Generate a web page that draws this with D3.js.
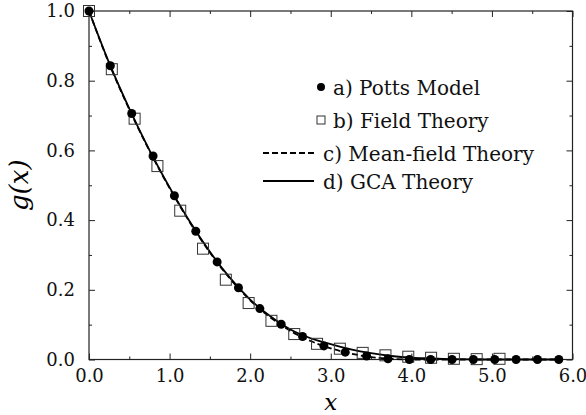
<!DOCTYPE html>
<html><head><meta charset="utf-8">
<script src="https://cdn.jsdelivr.net/npm/d3@7/dist/d3.min.js"></script>
<style>
body{margin:0;background:#fff}svg{display:block}
</style>
</head><body>
<svg id="c" width="586" height="415"></svg>
<script>
// ---- data ----
const pottsX = [0, 0.265, 0.53, 0.795, 1.06, 1.325, 1.59, 1.855, 2.12, 2.385, 2.65, 2.915, 3.18, 3.445, 3.71, 3.975, 4.24, 4.505, 4.77, 5.035, 5.30, 5.565, 5.83];
const pottsY = [1.0, 0.843, 0.706, 0.584, 0.470, 0.368, 0.280, 0.206, 0.146, 0.101, 0.066, 0.039, 0.021, 0.010, 0.002, 0.0, 0.0, 0.0, 0.0, 0.0, 0.0, 0.0, 0.0];
const fieldX = [0, 0.283, 0.566, 0.849, 1.132, 1.415, 1.698, 1.981, 2.264, 2.547, 2.83, 3.113, 3.396, 3.679, 3.962, 4.245, 4.528, 4.811, 5.094];
const fieldY = [1.0, 0.833, 0.691, 0.555, 0.427, 0.318, 0.229, 0.162, 0.111, 0.073, 0.045, 0.031, 0.019, 0.012, 0.008, 0.005, 0.002, 0.001, 0.002];
const gcaX = [0, 0.25, 0.5, 0.75, 1.0, 1.25, 1.5, 1.75, 2.0, 2.25, 2.5, 2.75, 3.0, 3.25, 3.5, 3.75, 4.0, 4.25, 4.5, 5.0, 5.5, 5.85];
const gcaY = [1.0, 0.851, 0.72, 0.601, 0.494, 0.396, 0.309, 0.234, 0.172, 0.124, 0.086, 0.061, 0.044, 0.029, 0.018, 0.010, 0.005, 0.003, 0.001, 0, 0, 0];
const mfX = [0, 0.25, 0.5, 0.75, 1.0, 1.25, 1.5, 1.75, 2.0, 2.25, 2.5, 2.75, 3.0, 3.25, 3.5, 3.75, 4.0, 4.5, 5.0, 5.5, 5.85];
const mfY = [1.0, 0.849, 0.718, 0.599, 0.492, 0.394, 0.307, 0.232, 0.170, 0.121, 0.082, 0.053, 0.032, 0.017, 0.007, 0.002, 0.0, 0, 0, 0, 0];
const xMajor = [0, 1, 2, 3, 4, 5, 6];
const xMinor = [0.5, 1.5, 2.5, 3.5, 4.5, 5.5];
const yMajor = [0, 0.2, 0.4, 0.6, 0.8, 1.0];
const yMinor = [0.1, 0.3, 0.5, 0.7, 0.9];
const legendLabels = ["a) Potts Model", "b) Field Theory", "c) Mean-field Theory", "d) GCA Theory"];

// ---- layout ----
const L = 89, R = 572.5, T = 11, B = 359.5;
const FONT = "DejaVu Serif";
const x = d3.scaleLinear().domain([0, 6]).range([L, R]);
const y = d3.scaleLinear().domain([0, 1]).range([B, T]);
const svg = d3.select("#c");

function styleAxis(g) {
  g.attr("font-family", FONT);
  g.select(".domain").remove();
  g.selectAll("line").attr("stroke", "#222").attr("stroke-width", 1);
  g.selectAll("text").attr("font-family", FONT).attr("font-size", 18).attr("fill", "#111");
}
const fmt = d3.format(".1f");
svg.append("g").attr("transform", `translate(0,${B})`)
  .call(d3.axisBottom(x).tickValues(xMajor).tickFormat(fmt).tickSizeInner(-6).tickPadding(10))
  .call(styleAxis);
svg.append("g").attr("transform", `translate(0,${B})`)
  .call(d3.axisBottom(x).tickValues(xMinor).tickFormat("").tickSizeInner(-3)).call(styleAxis);
svg.append("g").attr("transform", `translate(0,${T})`)
  .call(d3.axisTop(x).tickValues(xMajor).tickFormat("").tickSizeInner(-6)).call(styleAxis);
svg.append("g").attr("transform", `translate(0,${T})`)
  .call(d3.axisTop(x).tickValues(xMinor).tickFormat("").tickSizeInner(-3)).call(styleAxis);
svg.append("g").attr("transform", `translate(${L},0)`)
  .call(d3.axisLeft(y).tickValues(yMajor).tickFormat(fmt).tickSizeInner(-6).tickPadding(14))
  .call(styleAxis);
svg.append("g").attr("transform", `translate(${L},0)`)
  .call(d3.axisLeft(y).tickValues(yMinor).tickFormat("").tickSizeInner(-3)).call(styleAxis);
svg.append("g").attr("transform", `translate(${R},0)`)
  .call(d3.axisRight(y).tickValues(yMajor).tickFormat("").tickSizeInner(-6)).call(styleAxis);
svg.append("g").attr("transform", `translate(${R},0)`)
  .call(d3.axisRight(y).tickValues(yMinor).tickFormat("").tickSizeInner(-3)).call(styleAxis);
svg.append("rect").attr("x", L).attr("y", T).attr("width", R - L).attr("height", B - T)
  .attr("fill", "none").attr("stroke", "#222").attr("stroke-width", 1.2);

const line = d3.line().x(d => x(d[0])).y(d => y(d[1])).curve(d3.curveMonotoneX);
svg.append("path").datum(mfX.map((v, i) => [v, mfY[i]]))
  .attr("d", line).attr("fill", "none").attr("stroke", "#000").attr("stroke-width", 1.8)
  .attr("stroke-dasharray", "6,3");
svg.append("path").datum(gcaX.map((v, i) => [v, gcaY[i]]))
  .attr("d", line).attr("fill", "none").attr("stroke", "#000").attr("stroke-width", 1.8);

const sq = 11;
svg.append("g").selectAll("rect").data(fieldX.map((v, i) => [v, fieldY[i]])).join("rect")
  .attr("x", d => x(d[0]) - sq / 2).attr("y", d => y(d[1]) - sq / 2)
  .attr("width", sq).attr("height", sq)
  .attr("fill", "none").attr("stroke", "#333").attr("stroke-width", 1);
svg.append("g").selectAll("circle").data(pottsX.map((v, i) => [v, pottsY[i]])).join("circle")
  .attr("cx", d => x(d[0])).attr("cy", d => y(d[1])).attr("r", 4.5).attr("fill", "#000");

const lg = svg.append("g").attr("font-family", FONT).attr("font-size", 20).attr("fill", "#111");
lg.append("circle").attr("cx", 321).attr("cy", 87).attr("r", 4).attr("fill", "#000");
lg.append("text").attr("x", 333).attr("y", 95).text(legendLabels[0]);
lg.append("rect").attr("x", 317).attr("y", 116).attr("width", 8).attr("height", 8)
  .attr("fill", "none").attr("stroke", "#333").attr("stroke-width", 1);
lg.append("text").attr("x", 333).attr("y", 128).text(legendLabels[1]);
lg.append("line").attr("x1", 263).attr("x2", 314).attr("y1", 153).attr("y2", 153)
  .attr("stroke", "#000").attr("stroke-width", 1.8).attr("stroke-dasharray", "6,3");
lg.append("text").attr("x", 323).attr("y", 161).text(legendLabels[2]);
lg.append("line").attr("x1", 263).attr("x2", 314).attr("y1", 181).attr("y2", 181)
  .attr("stroke", "#000").attr("stroke-width", 1.8);
lg.append("text").attr("x", 323).attr("y", 189).text(legendLabels[3]);

svg.append("text").attr("x", (L + R) / 2).attr("y", 410).attr("text-anchor", "middle")
  .attr("font-family", FONT).attr("font-style", "italic").attr("font-size", 23).text("x");
svg.append("text").attr("transform", `translate(28,${(T + B) / 2}) rotate(-90)`)
  .attr("text-anchor", "middle").attr("font-family", FONT).attr("font-style", "italic")
  .attr("font-size", 26).text("g(x)");
</script>
</body></html>
